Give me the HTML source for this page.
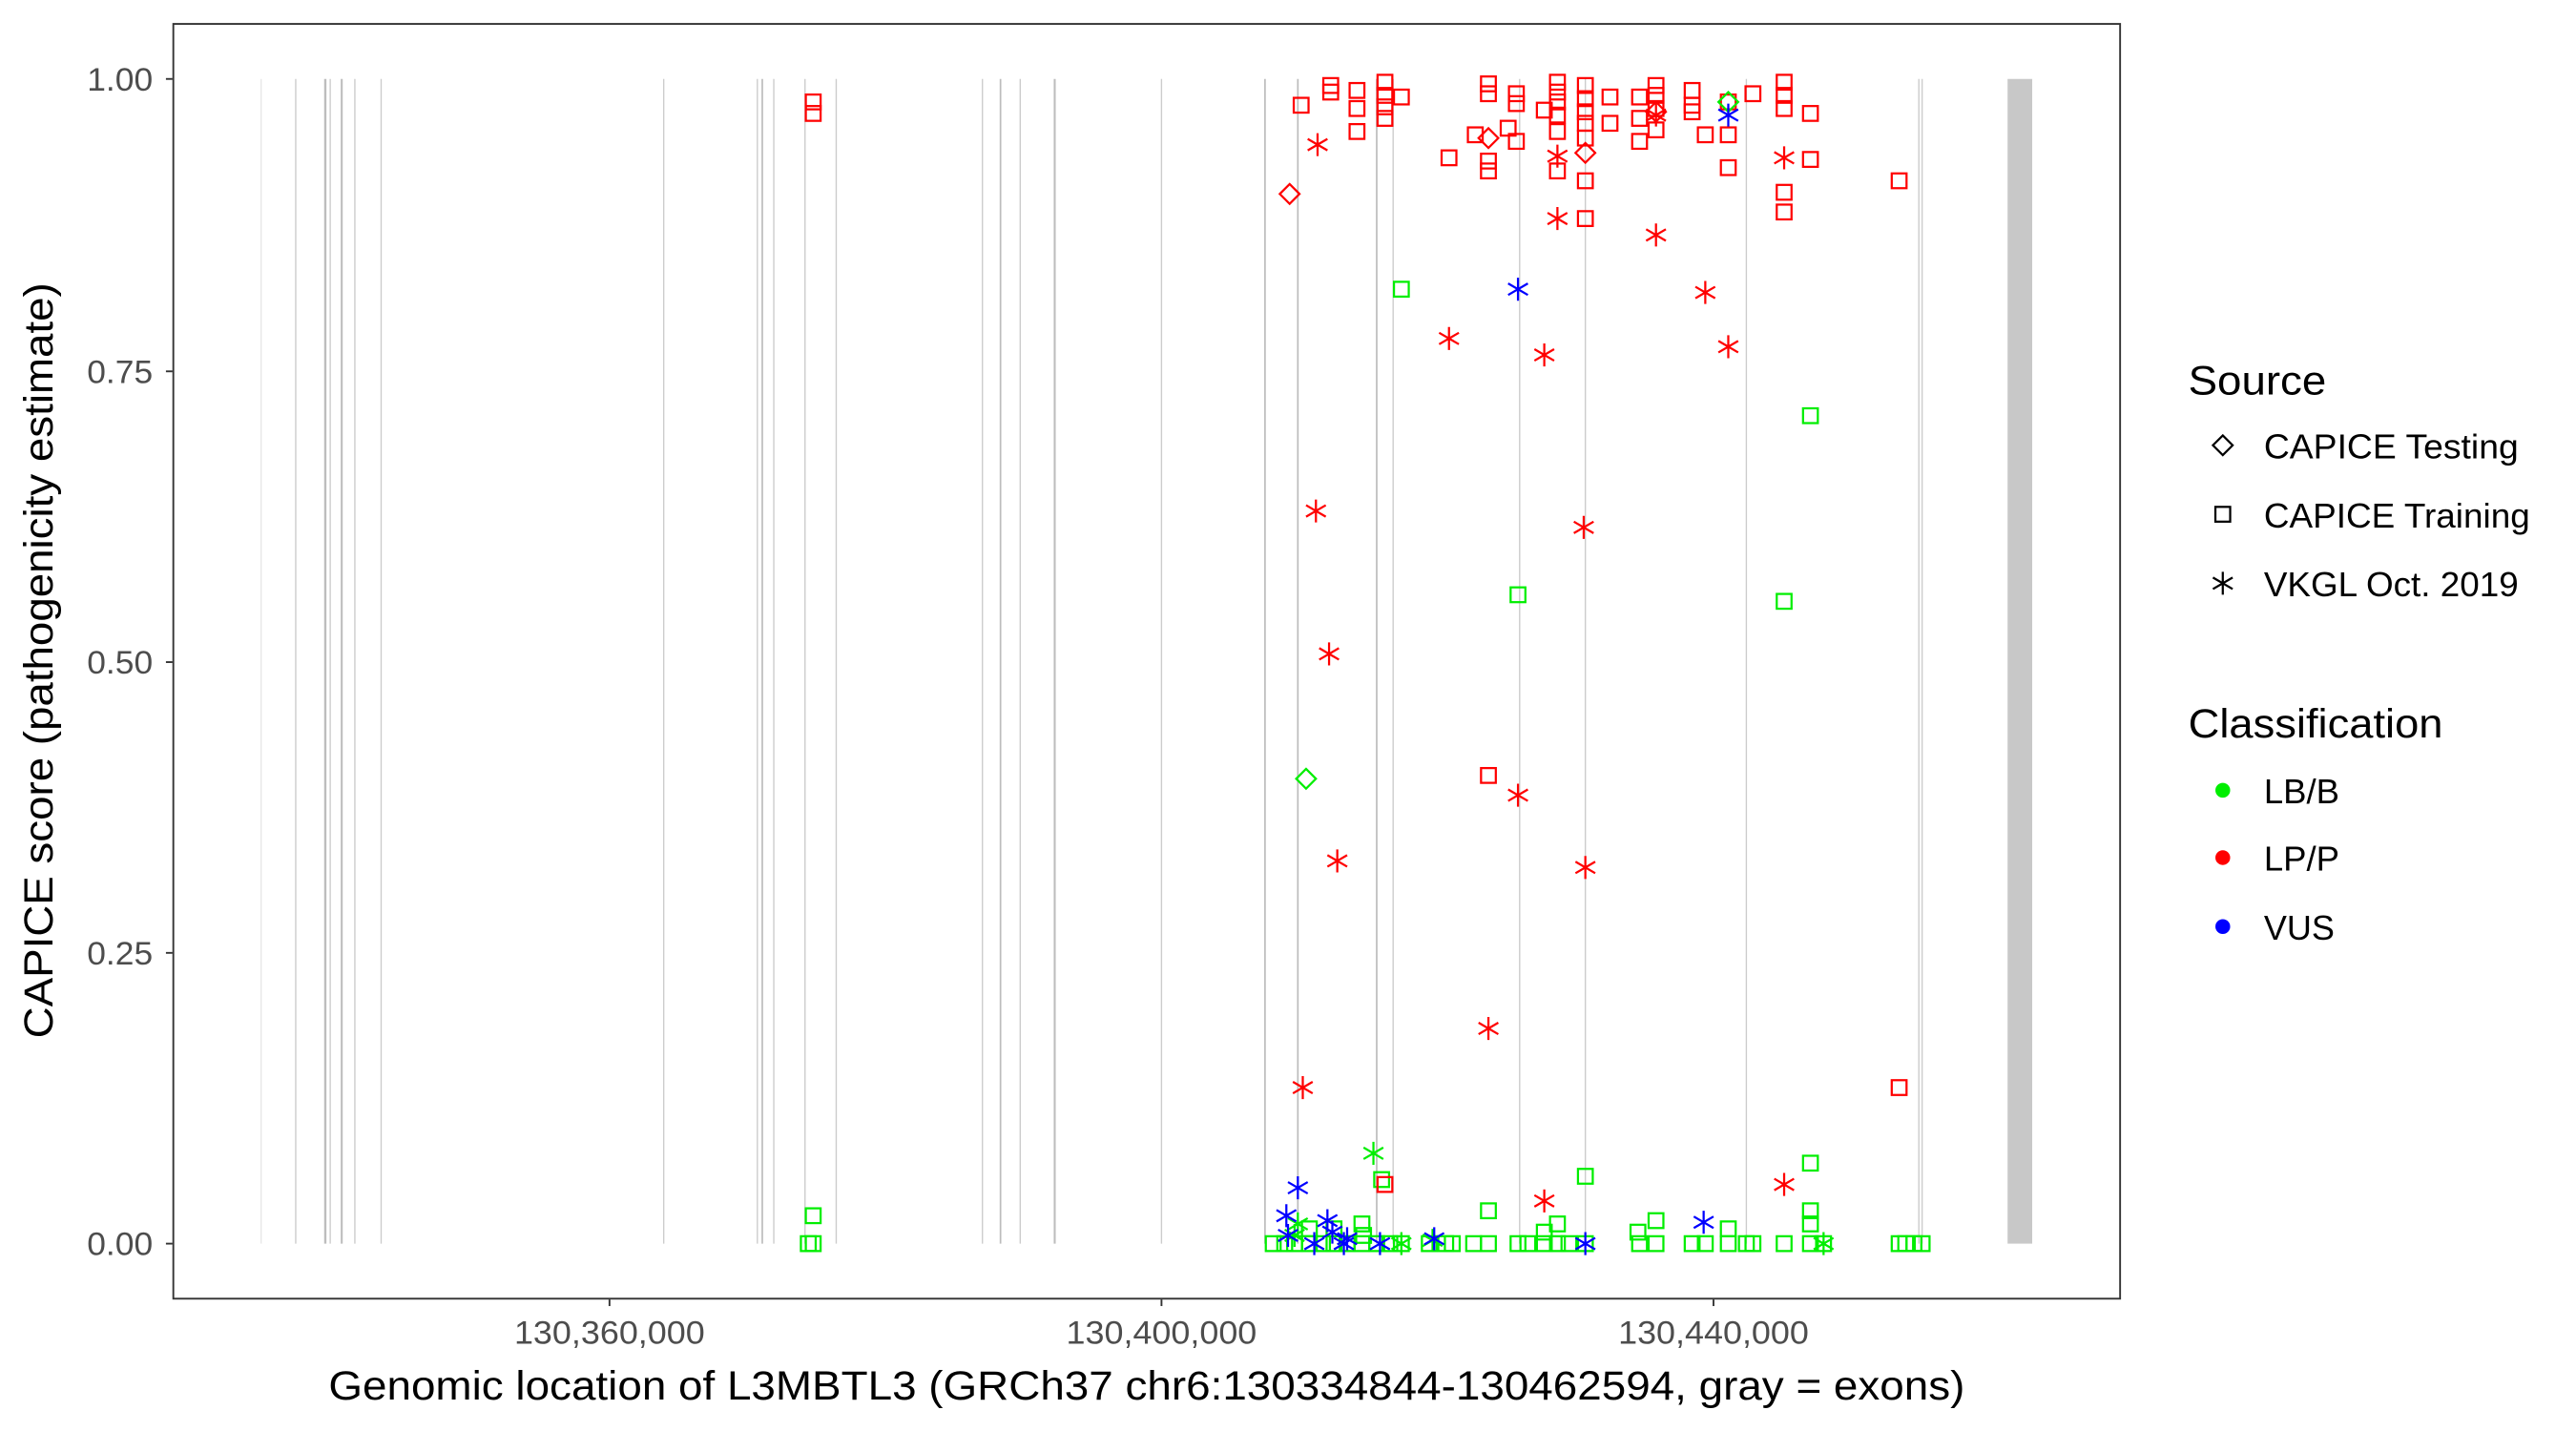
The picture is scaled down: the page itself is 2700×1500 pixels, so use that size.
<!DOCTYPE html>
<html><head><meta charset="utf-8"><style>html,body{margin:0;padding:0;background:#fff}svg{display:block}</style></head>
<body>
<svg id="s" xmlns="http://www.w3.org/2000/svg" width="2700" height="1500" viewBox="0 0 1568 871" font-family="Liberation Sans, Arial, sans-serif">
<rect x="0" y="0" width="1568" height="871" fill="#fff"/>
<g id="exons"></g>
<rect x="1222" y="48" width="15" height="709" fill="#c8c8c8"/>
<g id="pts" fill="none" stroke-width="1.3"></g>
<rect x="105.5" y="14.5" width="1185" height="776" fill="none" stroke="#333" stroke-width="1.1"/>
<g stroke="#333" stroke-width="1.1">
<line x1="101" y1="48" x2="105" y2="48"/><line x1="101" y1="226" x2="105" y2="226"/><line x1="101" y1="403" x2="105" y2="403"/><line x1="101" y1="580" x2="105" y2="580"/><line x1="101" y1="757" x2="105" y2="757"/>
<line x1="371" y1="791" x2="371" y2="795"/><line x1="707" y1="791" x2="707" y2="795"/><line x1="1043" y1="791" x2="1043" y2="795"/>
</g>
<g fill="#4d4d4d" font-size="20" text-anchor="end">
<text x="93" y="55" textLength="40" lengthAdjust="spacingAndGlyphs">1.00</text><text x="93" y="233" textLength="40" lengthAdjust="spacingAndGlyphs">0.75</text><text x="93" y="410" textLength="40" lengthAdjust="spacingAndGlyphs">0.50</text><text x="93" y="587" textLength="40" lengthAdjust="spacingAndGlyphs">0.25</text><text x="93" y="764" textLength="40" lengthAdjust="spacingAndGlyphs">0.00</text>
</g>
<g fill="#4d4d4d" font-size="20" text-anchor="middle">
<text x="371" y="818" textLength="116" lengthAdjust="spacingAndGlyphs">130,360,000</text><text x="707" y="818" textLength="116" lengthAdjust="spacingAndGlyphs">130,400,000</text><text x="1043" y="818" textLength="116" lengthAdjust="spacingAndGlyphs">130,440,000</text>
</g>
<text x="698" y="852" font-size="25" text-anchor="middle" fill="#000" textLength="996" lengthAdjust="spacingAndGlyphs">Genomic location of L3MBTL3 (GRCh37 chr6:130334844-130462594, gray = exons)</text>
<text transform="translate(32,402) rotate(-90)" font-size="25" text-anchor="middle" fill="#000" textLength="460" lengthAdjust="spacingAndGlyphs">CAPICE score (pathogenicity estimate)</text>
<g font-size="25" fill="#000"><text x="1332" y="240" textLength="84" lengthAdjust="spacingAndGlyphs">Source</text><text x="1332" y="449" textLength="155" lengthAdjust="spacingAndGlyphs">Classification</text></g>
<g font-size="21" fill="#000">
<text x="1378" y="279" textLength="155" lengthAdjust="spacingAndGlyphs">CAPICE Testing</text><text x="1378" y="321" textLength="162" lengthAdjust="spacingAndGlyphs">CAPICE Training</text><text x="1378" y="363" textLength="155" lengthAdjust="spacingAndGlyphs">VKGL Oct. 2019</text>
<text x="1378" y="489" textLength="46" lengthAdjust="spacingAndGlyphs">LB/B</text><text x="1378" y="530" textLength="46" lengthAdjust="spacingAndGlyphs">LP/P</text><text x="1378" y="572" textLength="43" lengthAdjust="spacingAndGlyphs">VUS</text>
</g>
<g id="leg" fill="none" stroke="#000" stroke-width="1.3"></g>
<circle cx="1353" cy="481" r="4.5" fill="#00ee00"/><circle cx="1353" cy="522" r="4.5" fill="#ff0000"/><circle cx="1353" cy="564" r="4.5" fill="#0000ff"/>
</svg>
<script>
var NS="http://www.w3.org/2000/svg";
function el(p,t,a){var e=document.createElementNS(NS,t);for(var k in a)e.setAttribute(k,a[k]);p.appendChild(e);return e;}
var ex=document.getElementById('exons');
[[159,0.6,'#e0e0e0'],[180,0.8,'#cccccc'],[198,1.4,'#bdbdbd'],[201,0.8,'#cccccc'],[208,1.2,'#bdbdbd'],[216,0.8,'#cccccc'],[232,0.8,'#cccccc'],[404,0.8,'#cccccc'],[461,0.8,'#cccccc'],[464,1,'#bdbdbd'],[471,0.8,'#cccccc'],[490,0.8,'#cccccc'],[509,0.8,'#cccccc'],[598,0.8,'#cccccc'],[609,1,'#bdbdbd'],[621,0.8,'#cccccc'],[642,1.2,'#bdbdbd'],[707,0.8,'#cccccc'],[770,1,'#bdbdbd'],[790,1,'#bdbdbd'],[838,1,'#bdbdbd'],[848,0.8,'#cccccc'],[925,0.8,'#cccccc'],[965,0.8,'#cccccc'],[1063,0.8,'#cccccc'],[1168,0.8,'#cccccc'],[1170,0.8,'#cccccc']].forEach(function(l){el(ex,'line',{x1:l[0],x2:l[0],y1:48,y2:757,stroke:l[2],'stroke-width':l[1]});});
function mk(p,s,x,y,c){
 if(s=='s')el(p,'rect',{x:x-4.5,y:y-4.5,width:9,height:9,stroke:c});
 else if(s=='d')el(p,'path',{d:'M'+x+' '+(y-6)+'L'+(x+6)+' '+y+'L'+x+' '+(y+6)+'L'+(x-6)+' '+y+'Z',stroke:c});
 else{var d='M'+x+' '+(y-7)+'V'+(y+7)+'M'+(x-6)+' '+(y-3.5)+'L'+(x+6)+' '+(y+3.5)+'M'+(x-6)+' '+(y+3.5)+'L'+(x+6)+' '+(y-3.5);el(p,'path',{d:d,stroke:c});}
}
var R='#ff0000',G='#00ee00',B='#0000ff',pts=document.getElementById('pts');
var rs=[[495,62],[495,69],[792,64],[810,56],[810,52],[826,55],[826,66],[826,80],[843,50],[843,58],[843,65],[843,72],[853,59],[882,96],[898,82],[906,51],[906,57],[906,98],[906,104],[923,57],[923,63],[923,86],[918,78],[948,50],[948,56],[948,62],[948,70],[948,80],[948,104],[940,67],[965,52],[965,60],[965,68],[965,75],[965,84],[965,110],[965,133],[980,59],[980,75],[998,59],[998,72],[998,86],[1008,52],[1008,58],[1008,66],[1008,79],[1030,55],[1030,64],[1038,82],[1052,62],[1052,82],[1052,102],[1067,57],[1086,50],[1086,58],[1086,66],[1086,117],[1086,129],[1102,69],[1102,97],[1156,110],[1156,662],[906,472],[843,721],[1030,68]];
var gs=[[853,176],[1102,253],[924,362],[1086,366],[495,740],[495,757],[492,757],[1102,708],[965,716],[906,737],[1102,737],[1102,745],[841,718],[1008,743],[997,750],[1052,748],[940,750],[948,745],[829,745],[812,748],[797,748],[830,752]];
[775,782,788,797,805,812,820,829,838,846,853,870,880,884,897,906,924,930,940,948,955,965,998,1008,1030,1038,1052,1063,1067,1086,1102,1110,1156,1160,1165,1170].forEach(function(x){gs.push([x,757]);});
gs.forEach(function(p){mk(pts,'s',p[0],p[1],G);});
rs.forEach(function(p){mk(pts,'s',p[0],p[1],R);});
[[785,118],[906,84],[965,93],[1008,68]].forEach(function(p){mk(pts,'d',p[0],p[1],R);});
[[795,474],[1052,62]].forEach(function(p){mk(pts,'d',p[0],p[1],G);});
[[836,702],[790,745],[853,757],[872,755],[788,752],[1110,757]].forEach(function(p){mk(pts,'a',p[0],p[1],G);});
[[802,88],[948,95],[948,133],[940,216],[882,206],[1008,143],[1038,178],[1052,211],[1086,96],[801,311],[964,321],[809,398],[814,524],[924,484],[965,528],[906,626],[793,662],[940,731],[1086,721],[1008,70]].forEach(function(p){mk(pts,'a',p[0],p[1],R);});
[[924,176],[1052,70],[790,723],[783,740],[808,743],[1037,744],[784,752],[800,757],[818,757],[840,757],[873,754],[965,757],[820,754],[811,750]].forEach(function(p){mk(pts,'a',p[0],p[1],B);});
var lg=document.getElementById('leg');
mk(lg,'d',1353,271,'#000');mk(lg,'s',1353,313,'#000');mk(lg,'a',1353,355,'#000');
</script>
</body></html>
